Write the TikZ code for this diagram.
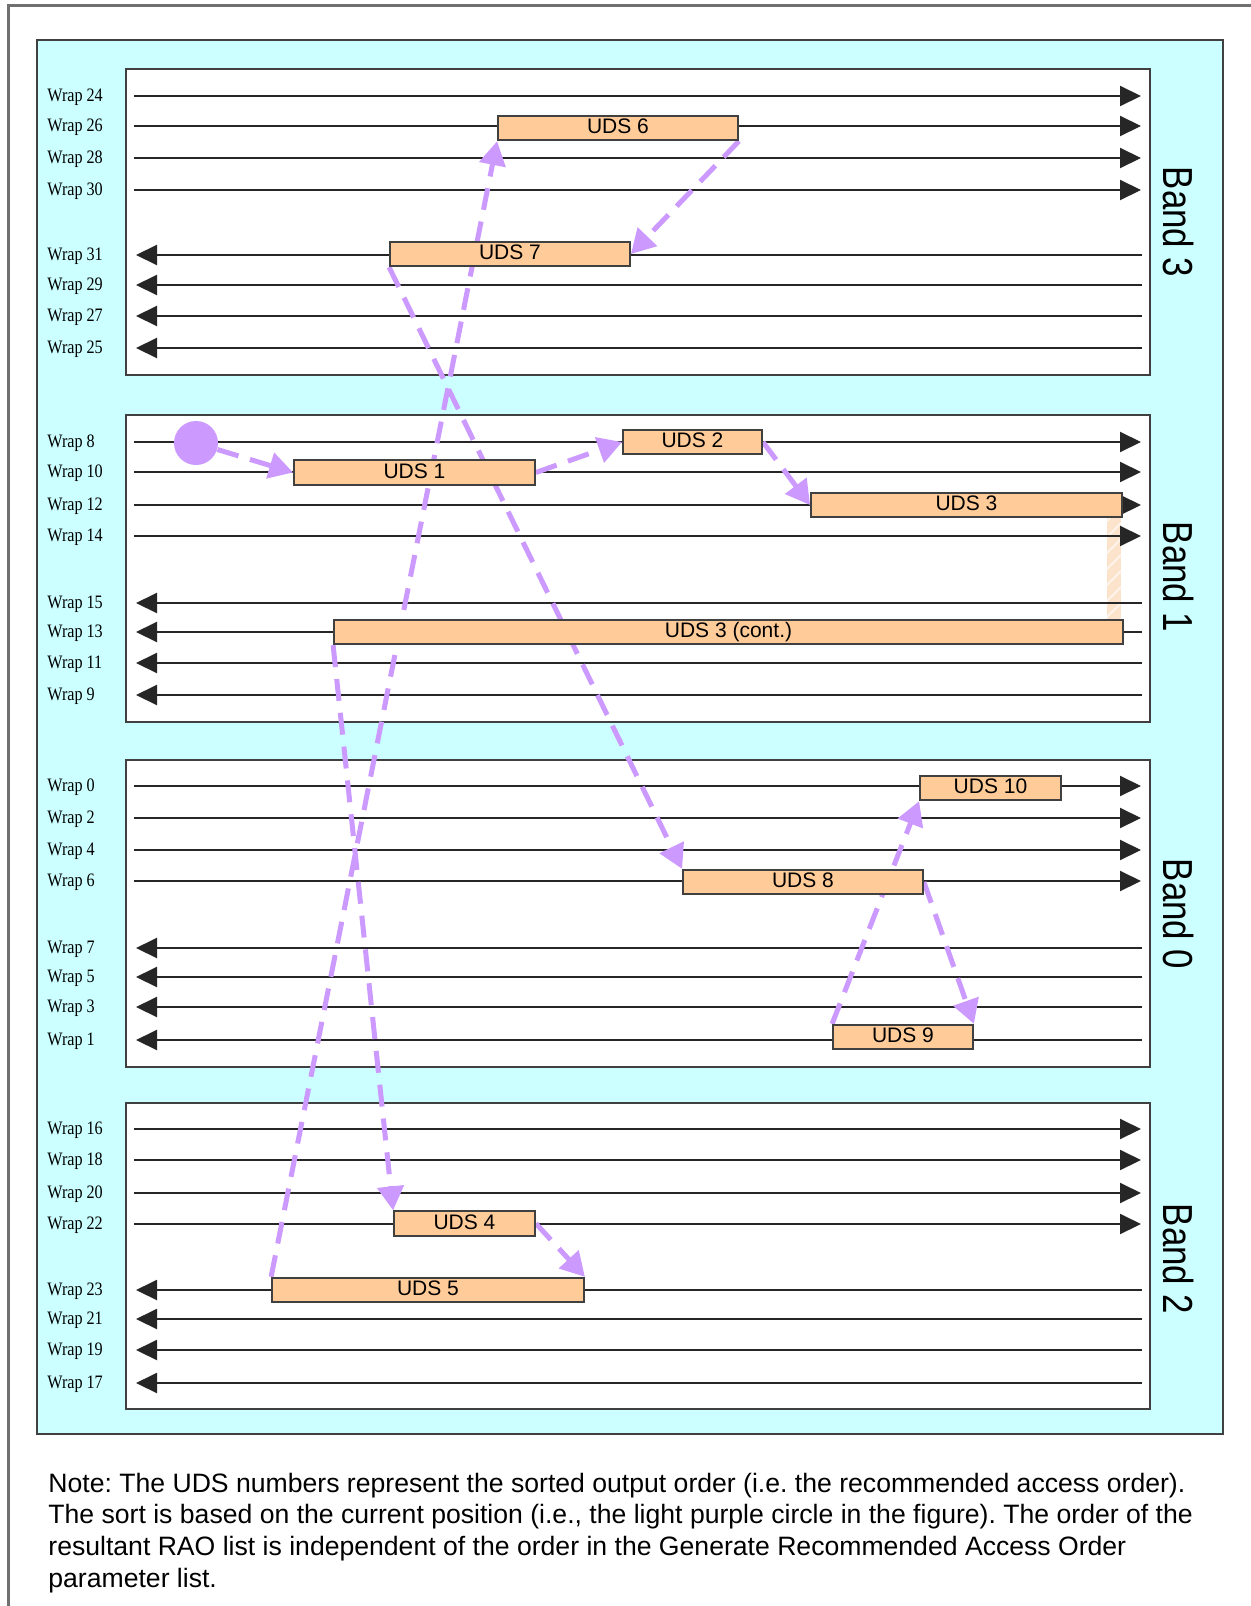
\documentclass[tikz,border=0pt]{standalone}
\usepackage{graphicx}
\usepackage{fontspec}
\setmainfont{Liberation Sans}
\newfontfamily\wrapfont{Liberation Serif}
\usetikzlibrary{arrows.meta}
\frenchspacing

\definecolor{bandcyan}{HTML}{CCFFFF}
\definecolor{udsfill}{HTML}{FFCC99}
\definecolor{pathpurple}{HTML}{CC99FF}
\definecolor{framegray}{HTML}{707070}
\definecolor{edgegray}{HTML}{404040}
\definecolor{wireblack}{HTML}{262626}
\definecolor{stripfill}{HTML}{FCE3CB}

% horizontally condensed text
\newcommand{\condensed}[2]{\scalebox{#1}[1]{#2}}

\pgfdeclarelayer{backdrop}
\pgfdeclarelayer{links}
\pgfsetlayers{backdrop,links,main}

\begin{document}
\begin{tikzpicture}[x=0.5pt,y=-0.5pt,
  wrapline/.style={draw=wireblack, line width=1pt},
  fwd/.style={wrapline, -{Triangle[length=10.5pt,width=10pt]}},
  bwd/.style={wrapline, -{Triangle[length=10.5pt,width=10pt]}},
  wraplabel/.style={anchor=base west, inner sep=0pt,
    font=\wrapfont\fontsize{9.5pt}{11pt}\selectfont},
  bandbox/.style={draw=edgegray, line width=1pt, fill=white},
  bandlabel/.style={rotate=-90, inner sep=0pt,
    font=\fontsize{21pt}{24pt}\selectfont},
  udsbox/.style={draw=edgegray, line width=0.9pt, fill=udsfill,
    minimum height=12.25pt, inner sep=0pt, text height=7.5pt, text depth=2pt,
    font=\fontsize{10.5pt}{12pt}\selectfont},
  link/.style={draw=pathpurple, line width=2.5pt, dash pattern=on 11pt off 6pt,
    -{Triangle[length=12pt,width=13pt]}},
  notetext/.style={anchor=base west, inner sep=0pt,
    font=\fontsize{13.3pt}{16pt}\selectfont}
]
\useasboundingbox (0,0) rectangle (1251,1606);

\begin{pgfonlayer}{backdrop}
  % page frame
  \draw[framegray, line width=1.5pt] (8,1606) -- (8,5) -- (1251,5);
  % cyan panel and the four band boxes
  \draw[fill=bandcyan, draw=edgegray, line width=1pt] (37,40) rectangle (1223,1434);
  \draw[bandbox] (126,69) rectangle (1150,375);
  \draw[bandbox] (126,415) rectangle (1150,722);
  \draw[bandbox] (126,760) rectangle (1150,1067);
  \draw[bandbox] (126,1103) rectangle (1150,1409);

  % continuation strip between UDS 3 and UDS 3 (cont.)
  \fill[stripfill] (1107,518) rectangle (1121,620);
  \begin{scope}
    \clip (1107,518) rectangle (1121,620);
    \foreach \k in {0,...,7}
      \draw[white, line width=0.8pt, opacity=0.7] (1100,640-\k*16) -- (1130,610-\k*16);
  \end{scope}

  % forward wraps
  \foreach \n/\y in {24/96, 26/126, 28/158, 30/190,
                     8/442, 10/472, 12/505, 14/536,
                     0/786, 2/818, 4/850, 6/881,
                     16/1129, 18/1160, 20/1193, 22/1224} {
    \node[wraplabel] (lab\n) at (47,\y+5.5) {\condensed{0.85}{Wrap \n}};
    \coordinate (ws\n) at (134,\y);
    \coordinate (we\n) at (1141,\y);
    \draw[fwd] (ws\n) -- (we\n);
  }
  % reverse wraps
  \foreach \n/\y in {31/255, 29/285, 27/316, 25/348,
                     15/603, 13/632, 11/663, 9/695,
                     7/948, 5/977, 3/1007, 1/1040,
                     23/1290, 21/1319, 19/1350, 17/1383} {
    \node[wraplabel] (lab\n) at (47,\y+5.5) {\condensed{0.85}{Wrap \n}};
    \coordinate (ws\n) at (136,\y);
    \coordinate (we\n) at (1142,\y);
    \draw[bwd] (we\n) -- (ws\n);
  }
\end{pgfonlayer}

% band names
\node[bandlabel] (band3) at (1178,222) {\condensed{0.83}{Band 3}};
\node[bandlabel] (band1) at (1178,577) {\condensed{0.83}{Band 1}};
\node[bandlabel] (band0) at (1178,914) {\condensed{0.83}{Band 0}};
\node[bandlabel] (band2) at (1178,1259) {\condensed{0.83}{Band 2}};

% current position
\node[circle, fill=pathpurple, minimum size=22pt, inner sep=0pt] (cur) at (196,443) {};

% data sets in access order
\node[udsbox, minimum width=120pt]   (uds6)  at (618,128)    {UDS 6};
\node[udsbox, minimum width=120pt]   (uds7)  at (510,254)    {UDS 7};
\node[udsbox, minimum width=120.5pt] (uds1)  at (414.5,472.5) {UDS 1};
\node[udsbox, minimum width=69.5pt]  (uds2)  at (692.5,442)  {UDS 2};
\node[udsbox, minimum width=155.5pt] (uds3)  at (966.5,505)  {UDS 3};
\node[udsbox, minimum width=394.5pt] (uds3c) at (728.5,632)  {UDS 3 (cont.)};
\node[udsbox, minimum width=70.5pt]  (uds10) at (990.5,788)  {UDS 10};
\node[udsbox, minimum width=120pt]   (uds8)  at (803,882)    {UDS 8};
\node[udsbox, minimum width=70pt]    (uds9)  at (903,1037)   {UDS 9};
\node[udsbox, minimum width=70.5pt]  (uds4)  at (464.5,1223.5) {UDS 4};
\node[udsbox, minimum width=156pt]   (uds5)  at (428,1290)   {UDS 5};

% access path
\begin{pgfonlayer}{links}
  \draw[link] (cur) -- (uds1.west);
  \draw[link] (uds1.east) -- (uds2.west);
  \draw[link] (uds2.east) -- (uds3.west);
  \draw[link] (uds3c.south west) -- (uds4.north west);
  \draw[link] (uds4.east) -- (uds5.north east);
  \draw[link] (uds5.north west) -- (uds6.south west);
  \draw[link] (uds6.south east) -- (uds7.east);
  \draw[link] (uds7.south west) -- (uds8.north west);
  \draw[link] (uds8.east) -- (uds9.north east);
  \draw[link] (uds9.north west) -- (uds10.south west);
\end{pgfonlayer}

% note
\node[notetext] (note1) at (48,1492) {Note: The UDS numbers represent the sorted output order (i.e. the recommended access order).};
\node[notetext] (note2) at (48,1523.7) {The sort is based on the current position (i.e., the light purple circle in the figure). The order of the};
\node[notetext] (note3) at (48,1555.4) {resultant RAO list is independent of the order in the Generate Recommended Access Order};
\node[notetext] (note4) at (48,1587) {parameter list.};
\end{tikzpicture}
\end{document}
